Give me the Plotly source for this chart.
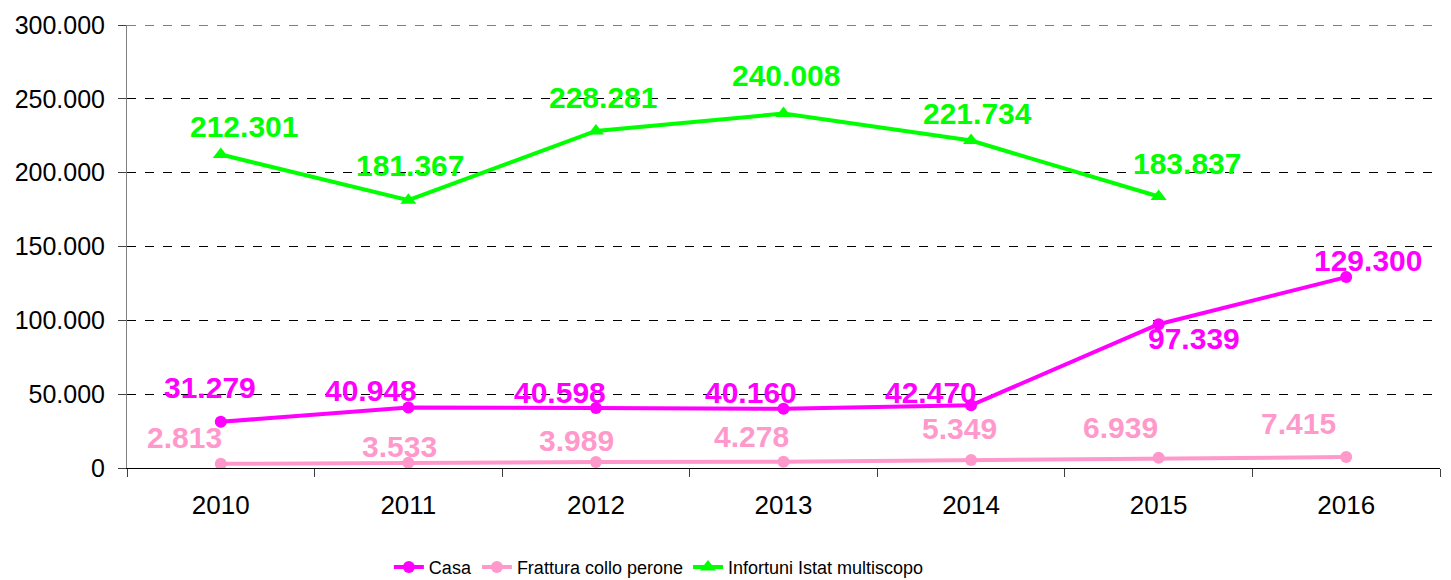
import plotly.graph_objects as go

years = ["2010", "2011", "2012", "2013", "2014", "2015", "2016"]
casa = [31279, 40948, 40598, 40160, 42470, 97339, 129300]
frattura = [2813, 3533, 3989, 4278, 5349, 6939, 7415]
infortuni = [212301, 181367, 228281, 240008, 221734, 183837, None]

names = ["Casa", "Frattura collo perone", "Infortuni Istat multiscopo"]
colors = ["#FF00FF", "#FF99CC", "#00FF00"]
symbols = ["circle", "circle", "triangle-up"]
msizes = [12, 12, 14]

# label offsets (px): (xshift, yshift)
casa_off = [(-11, 34), (-37, 17), (-36, 16), (-33, 16), (-40, 13), (35, -14), (22, 17)]
fratt_off = [(-36, 26), (-9, 16), (-19, 22), (-32, 25), (-12, 32), (-38, 30), (-48, 34)]
inf_off = [(23, 28), (2, 35), (7, 33), (2, 38), (6, 27), (28, 33), (0, 0)]

FONT = "Liberation Sans, Arial, sans-serif"

fig = go.Figure()
for vals, name, col, sym, ms in zip([casa, frattura, infortuni], names, colors, symbols, msizes):
    fig.add_trace(go.Scatter(
        x=years, y=vals, name=name, mode="lines+markers",
        line=dict(color=col, width=4),
        marker=dict(color=col, symbol=sym, size=ms),
        connectgaps=False,
    ))

def fmt(v):
    return f"{v:,}".replace(",", ".")

for vals, offs, col in [(casa, casa_off, colors[0]), (frattura, fratt_off, colors[1]), (infortuni, inf_off, colors[2])]:
    for i, (v, (dx, dy)) in enumerate(zip(vals, offs)):
        if v is None:
            continue
        fig.add_annotation(
            x=i, y=v, xref="x", yref="y", text=f"<b>{fmt(v)}</b>", showarrow=False,
            xshift=dx, yshift=dy,
            font=dict(family=FONT, size=30, color=col),
        )

Y_MAX = 300000
# top dashed gridline (plotly hides gridlines sitting on the plot edge)
fig.add_shape(type="line", xref="paper", yref="y", x0=0, x1=1, y0=Y_MAX, y1=Y_MAX,
              line=dict(color="black", width=1, dash="dash"), layer="below")

fig.update_layout(
    width=1451, height=580,
    margin=dict(l=127, r=11, t=25, b=112, autoexpand=False),
    plot_bgcolor="white", paper_bgcolor="white",
    separators=",.",
    font=dict(family=FONT, color="black"),
    showlegend=True,
    legend=dict(
        orientation="h", xref="container", yref="container",
        x=0.268, xanchor="left", y=0.022, yanchor="middle",
        font=dict(family=FONT, size=18, color="black"),
        itemwidth=30, tracegroupgap=0,
    ),
)

fig.update_xaxes(
    type="category", categoryorder="array", categoryarray=years,
    range=[-0.5, 6.5], automargin=False,
    tickson="boundaries", ticks="outside", ticklen=8, tickcolor="#404040", tickwidth=1,
    ticklabelstandoff=14,
    showline=True, linecolor="black", linewidth=1,
    showgrid=False, zeroline=False,
    tickfont=dict(family=FONT, size=26, color="black"),
)
fig.update_yaxes(
    range=[0, Y_MAX], dtick=50000, tick0=0, tickformat=",d", automargin=False,
    showgrid=True, gridcolor="black", griddash="dash", gridwidth=1,
    ticks="outside", ticklen=8, tickcolor="#404040",
    ticklabelstandoff=8,
    showline=True, linecolor="#808080", linewidth=1,
    zeroline=False,
    tickfont=dict(family=FONT, size=25, color="black"),
)

fig.write_html("out.html", config={"displayModeBar": False},
               post_script="document.body.style.margin='0px';")
